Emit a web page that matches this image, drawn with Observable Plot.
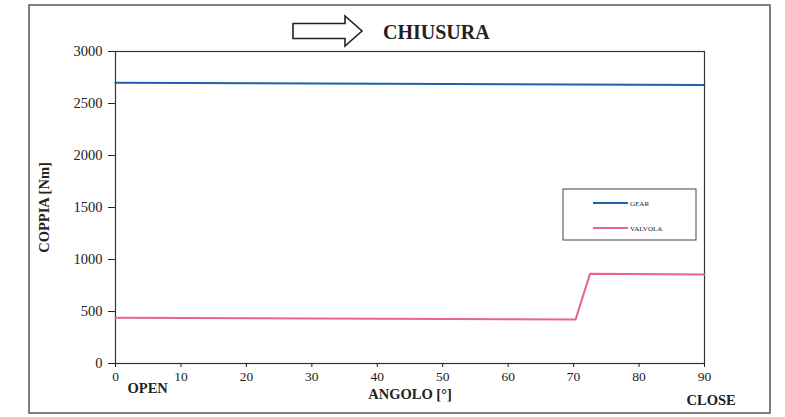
<!DOCTYPE html>
<html><head><meta charset="utf-8">
<script src="https://cdn.jsdelivr.net/npm/d3@7"></script>
<script src="https://cdn.jsdelivr.net/npm/@observablehq/plot@0.6"></script>
<style>body{margin:0;background:#fff}</style>
</head><body><div id="chart"></div>
<script>
const gearAngle = [0, 90];
const gearTorque = [2700, 2677];
const valvolaAngle = [0, 70.3, 72.5, 90];
const valvolaTorque = [440, 422, 862, 856];
const xTicks = [0, 10, 20, 30, 40, 50, 60, 70, 80, 90];
const yTicks = [0, 500, 1000, 1500, 2000, 2500, 3000];
const seriesNames = ["GEAR", "VALVOLA"];
const seriesColors = ["#1f5fae", "#e8619c"];
const startLabel = [{x: 0, label: "OPEN"}];
const endLabel = [{x: 90, label: "CLOSE"}];
const titleText = "CHIUSURA";

const rows = [
  ...gearAngle.map((a, i) => ({angle: a, torque: gearTorque[i], series: seriesNames[0]})),
  ...valvolaAngle.map((a, i) => ({angle: a, torque: valvolaTorque[i], series: seriesNames[1]}))
];

const serif = "'Liberation Serif','Times New Roman',serif";

const plot = Plot.plot({
  width: 785, height: 417,
  marginLeft: 115, marginRight: 81, marginTop: 51, marginBottom: 54,
  style: {fontFamily: serif, background: "#fff", color: "#222"},
  x: {domain: [0, 90]},
  y: {domain: [0, 3000]},
  color: {domain: seriesNames, range: seriesColors},
  marks: [
    Plot.frame({stroke: "#333", strokeWidth: 1.2}),
    Plot.axisY({ticks: yTicks, tickFormat: d => String(d), tickSize: 7, tickPadding: 6, fontSize: 14.5,
      label: "COPPIA [Nm]", labelAnchor: "center", labelArrow: "none", labelOffset: 77}),
    Plot.axisX({ticks: xTicks, tickFormat: d => String(d), tickSize: 4, tickPadding: 4, fontSize: 13.5,
      label: "ANGOLO [°]", labelAnchor: "center", labelArrow: "none", labelOffset: 35}),
    Plot.line(rows, {x: "angle", y: "torque", z: "series", stroke: "series", strokeWidth: 2}),
    Plot.text(startLabel, {x: "x", text: "label", frameAnchor: "bottom", dy: 29, dx: 12,
      textAnchor: "start", fontSize: 14.5, fontWeight: "bold", fill: "#222"}),
    Plot.text(endLabel, {x: "x", text: "label", frameAnchor: "bottom", dy: 41, dx: -18,
      textAnchor: "start", fontSize: 14.5, fontWeight: "bold", fill: "#222"})
  ]
});

const svg = d3.select(plot);
svg.selectAll('g[aria-label="y-axis label"] text, g[aria-label="x-axis label"] text')
  .attr("font-weight", "bold").attr("font-size", 14.5);

// outer border
svg.insert("rect", ":first-child").attr("x", 29).attr("y", 5).attr("width", 741).attr("height", 408)
  .attr("fill", "none").attr("stroke", "#555").attr("stroke-width", 1.5);

// title arrow and text
svg.append("path")
  .attr("d", "M293,23.5 L345,23.5 L345,16 L362,31 L345,46 L345,38.5 L293,38.5 Z")
  .attr("fill", "#fff").attr("stroke", "#222").attr("stroke-width", 1.6);
svg.append("text").attr("x", 383).attr("y", 39).text(titleText)
  .attr("text-anchor", "start")
  .attr("font-family", serif).attr("font-weight", "bold").attr("font-size", 20).attr("fill", "#222");

// legend
const lg = svg.append("g");
lg.append("rect").attr("x", 563).attr("y", 189).attr("width", 133).attr("height", 51)
  .attr("fill", "#fff").attr("stroke", "#444").attr("stroke-width", 1);
seriesNames.forEach((name, i) => {
  const yy = 203 + i * 25;
  lg.append("line").attr("x1", 593).attr("x2", 628).attr("y1", yy).attr("y2", yy)
    .attr("stroke", seriesColors[i]).attr("stroke-width", 2.2);
  lg.append("text").attr("x", 630).attr("y", yy + 2.5).text(name)
    .attr("text-anchor", "start")
    .attr("font-family", serif).attr("font-size", 7).attr("fill", "#222");
});

document.getElementById("chart").appendChild(plot);
</script>
</body></html>
